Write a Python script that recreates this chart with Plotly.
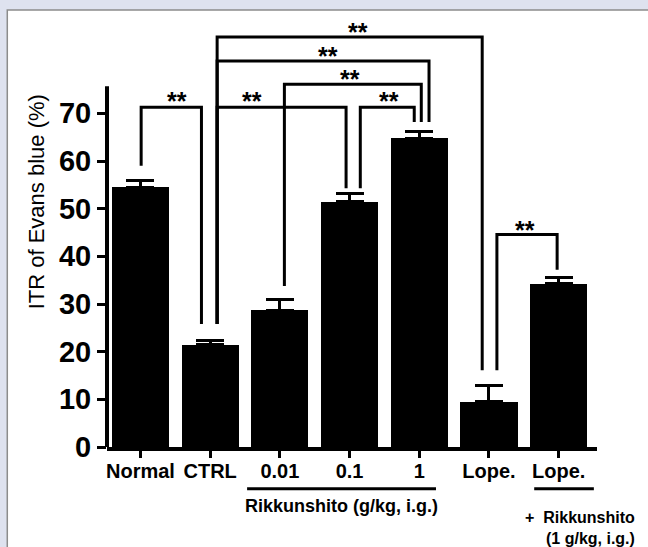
import plotly.graph_objects as go

# ---- data ----
group_labels = ["Normal", "CTRL", "0.01", "0.1", "1", "Lope.", "Lope."]
itr_mean = [54.5, 21.5, 28.7, 51.4, 64.8, 9.5, 34.2]
itr_sem = [1.4, 0.9, 2.3, 1.8, 1.3, 3.3, 1.3]
y_ticks = [0, 10, 20, 30, 40, 50, 60, 70]

# significance brackets: (x_left, x_right, y_top, y_left_end, y_right_end, star_x, star_y)
brackets = [
    (0.01, 0.875, 71.3, 59.0, 25.8, 0.53, 73.4),
    (1.10, 2.95, 71.3, 25.8, 54.3, 1.606, 73.4),
    (3.154, 3.928, 71.3, 54.3, 68.2, 3.563, 73.4),
    (2.065, 4.029, 76.1, 33.8, 68.2, 3.011, 78.0),
    (1.10, 4.14, 81.0, 25.8, 68.2, 2.695, 82.9),
    (1.10, 4.903, 86.0, 25.8, 16.1, 3.125, 87.9),
    (5.114, 5.978, 44.6, 16.1, 37.2, 5.52, 46.4),
]

FONT = "Arial, Liberation Sans, sans-serif"
x_pos = list(range(len(group_labels)))

fig = go.Figure()
fig.add_trace(go.Bar(
    x=x_pos, y=itr_mean, width=0.82,
    marker=dict(color="black", line=dict(width=0)),
    error_y=dict(type="data", array=itr_sem, arrayminus=[0] * len(itr_sem),
                 symmetric=False, color="black", thickness=3, width=14),
    showlegend=False,
))

shapes = []
# white panel with grey border
shapes.append(dict(type="rect", xref="paper", yref="paper",
                   x0=-0.2035, x1=1.25, y0=-0.3, y1=1.0187,
                   fillcolor="white", line=dict(color="#8c8c8c", width=1.5),
                   layer="below"))
# y axis line (only up to ~75)
shapes.append(dict(type="line", xref="paper", yref="y", x0=0, x1=0, y0=0, y1=75.7,
                   line=dict(color="black", width=4)))
annotations = []
for xl, xr, yt, yl, yr, sx, sy in brackets:
    shapes.append(dict(type="path", xref="x", yref="y",
                       path=f"M {xl} {yl} L {xl} {yt} L {xr} {yt} L {xr} {yr}",
                       line=dict(color="black", width=3)))
    annotations.append(dict(x=sx, y=sy, xref="x", yref="y", text="**", showarrow=False,
                            xanchor="center", yanchor="middle", yshift=-4,
                            font=dict(family=FONT, size=25, color="black", weight="bold")))

# group underlines
shapes.append(dict(type="line", xref="x", yref="paper", x0=1.53, x1=4.24, y0=-0.0975, y1=-0.0975,
                   line=dict(color="black", width=3)))
shapes.append(dict(type="line", xref="x", yref="paper", x0=5.649, x1=6.505, y0=-0.0975, y1=-0.0975,
                   line=dict(color="black", width=3)))

annotations += [
    dict(x=2.889, y=-0.1383, xref="x", yref="paper", text="Rikkunshito (g/kg, i.g.)",
         xanchor="center", yanchor="middle",
         showarrow=False, font=dict(family=FONT, size=18, color="black", weight="bold")),
    dict(x=6.308, y=-0.165, xref="x", yref="paper", text="+  Rikkunshito",
         xanchor="center", yanchor="middle",
         showarrow=False, font=dict(family=FONT, size=16, color="black", weight="bold")),
    dict(x=6.452, y=-0.213, xref="x", yref="paper", text="(1 g/kg, i.g.)",
         xanchor="center", yanchor="middle",
         showarrow=False, font=dict(family=FONT, size=16, color="black", weight="bold")),
    dict(x=-0.1443, y=0.571, xref="paper", yref="paper", text="ITR of Evans blue (%)",
         xanchor="center", yanchor="middle",
         textangle=-90, showarrow=False, font=dict(family=FONT, size=22, color="black")),
]

fig.update_layout(
    width=648, height=547,
    margin=dict(l=107, r=51, t=18, b=100),
    paper_bgcolor="#dee2ef",
    plot_bgcolor="rgba(0,0,0,0)",
    shapes=shapes,
    annotations=annotations,
    bargap=0,
    xaxis=dict(range=[-0.48, 6.55], tickmode="array", tickvals=x_pos, ticktext=group_labels,
               showline=True, linecolor="black", linewidth=4, ticks="outside",
               ticklen=7, tickwidth=3, tickcolor="black", showgrid=False, zeroline=False,
               ticklabelstandoff=-4,
               tickfont=dict(family=FONT, size=20, color="black", weight="bold")),
    yaxis=dict(range=[0, 90], tickmode="array", tickvals=y_ticks, showline=False,
               ticks="outside", ticklen=9, tickwidth=3, tickcolor="black",
               showgrid=False, zeroline=False,
               tickfont=dict(family=FONT, size=29, color="black", weight="bold")),
)

fig.write_html("out.html", config={"displayModeBar": False},
               post_script="document.body.style.margin='0';document.body.style.background='#dee2ef';")
